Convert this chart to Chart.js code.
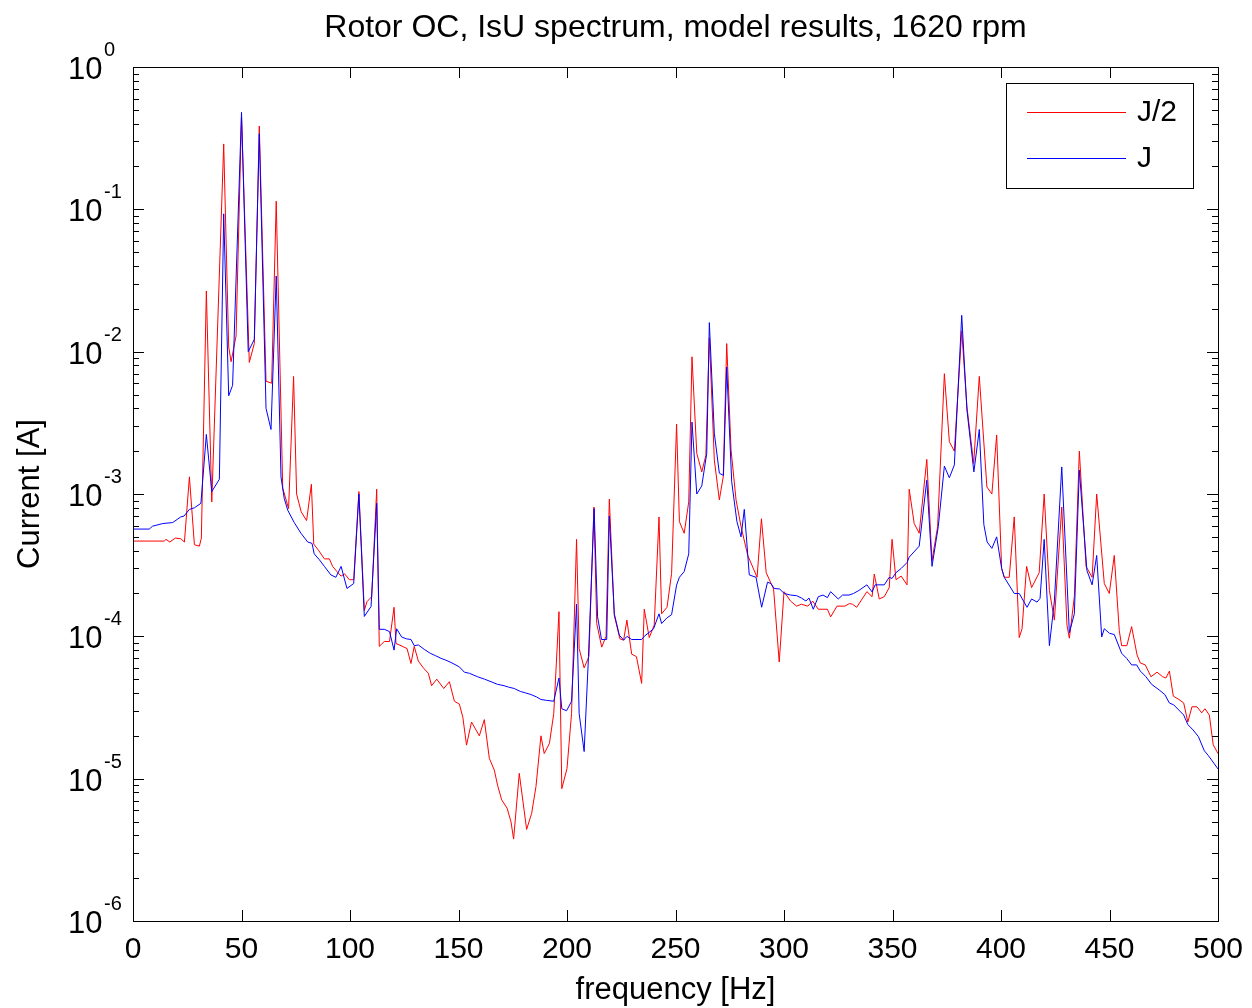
<!DOCTYPE html>
<html>
<head>
<meta charset="utf-8">
<script src="https://cdn.jsdelivr.net/npm/chart.js@4.4.1/dist/chart.umd.min.js"></script>
<style>
  html, body { margin: 0; padding: 0; background: #ffffff; }
  #wrap { width: 1252px; height: 1008px; }
</style>
</head>
<body>
<div id="wrap"><canvas id="myChart" width="1252" height="1008"></canvas></div>
<script>
// J/2 series (red)
const freqHalf = [0, 14.4, 15.2, 17, 19.5, 22, 23.7, 26, 28.3, 30.6, 31.5, 33.8, 36.3, 41.8, 44.1, 45.2, 47.5, 50,
  53.6, 55.9, 58.2, 61.3, 63.9, 66, 69, 71.7, 74, 75.4, 77.5, 80, 82.2, 83.3, 85.6, 88.2, 90.5, 92, 94, 95.9, 97.5,
  99.7, 101.7, 104.1, 106.6, 107.8, 110, 112.3, 113.5, 115.8, 118.2, 120.3, 121.2, 123.5, 126.3, 128.1, 129.6, 131.5,
  133.8, 136.1, 137.6, 140, 143.2, 145.8, 148.1, 150.4, 152, 153.7, 156, 159.6, 161.9, 164.2, 166.5, 168, 169.9,
  172.4, 174.2, 175.4, 178, 181.4, 183.7, 185.7, 188, 189.5, 191.9, 193.9, 196.3, 197.6, 200, 202.1, 204.4, 205.6,
  207.9, 210.1, 212.4, 213.7, 216, 218, 219.5, 221.8, 224.4, 226.1, 227.6, 229.8, 232, 234.4, 235.6, 237.9, 240.2,
  242.4, 243.6, 246.1, 248.2, 250.5, 251.8, 254, 256.1, 257.6, 259.8, 262.1, 264, 265.6, 267.9, 270.2, 272, 273.6,
  275.6, 277.9, 280.2, 283.3, 287.6, 289.6, 291.8, 295.2, 297.8, 300, 303, 305.8, 308, 311, 313.2, 315.8, 320,
  321.5, 324.4, 328, 330.2, 331.6, 333.5, 338.2, 340.6, 341.6, 343.9, 346.2, 348.5, 349.8, 351.6, 354, 356.7, 357.7,
  360, 362.3, 365.8, 368.2, 370.8, 373.9, 376.2, 378.5, 381.9, 384.3, 387.4, 390, 393.5, 395.8, 398, 400.3, 401.5,
  403.8, 406.1, 408.4, 409.7, 411.8, 414.1, 417.6, 419.9, 422.3, 424.6, 428, 430.4, 431.5, 433.8, 436.1, 439.2, 442,
  444.1, 447.6, 449.9, 452.2, 454.5, 455.6, 458, 460.2, 462.7, 464.2, 466.5, 469.1, 471.9, 474.5, 476, 477.6, 479.4,
  482, 484.2, 486.1, 488, 490.3, 492.5, 494, 496, 497.8, 500];
const ampHalf = [4.67e-4, 4.67e-4, 4.8e-4, 4.6e-4, 4.9e-4, 4.85e-4, 4.6e-4, 1.32e-3, 4.4e-4, 4.3e-4, 4.9e-4, 2.67e-2,
  8.8e-4, 0.288, 1.08e-2, 8.5e-3, 1.29e-2, 0.45, 8.4e-3, 1.14e-2, 0.385, 6.2e-3, 6.0e-3, 0.114, 1.1e-3, 7.9e-4,
  6.7e-3, 1.0e-3, 7.5e-4, 6.5e-4, 1.17e-3, 4.45e-4, 4.0e-4, 3.5e-4, 3.5e-4, 3.1e-4, 2.85e-4, 2.65e-4, 2.75e-4,
  2.5e-4, 2.5e-4, 1.04e-3, 1.52e-4, 1.75e-4, 1.9e-4, 1.08e-3, 8.5e-5, 9.2e-5, 9.2e-5, 1.6e-4, 8.9e-5, 8.6e-5,
  8.2e-5, 6.45e-5, 8.5e-5, 6.7e-5, 6.0e-5, 5.5e-5, 4.5e-5, 5.0e-5, 4.3e-5, 4.8e-5, 3.5e-5, 3.34e-5, 2.7e-5,
  1.72e-5, 2.5e-5, 2.0e-5, 2.6e-5, 1.39e-5, 1.15e-5, 9.0e-6, 7.1e-6, 6.2e-6, 4.97e-6, 3.76e-6, 1.09e-5, 4.4e-6,
  5.7e-6, 8.8e-6, 2.0e-5, 1.5e-5, 1.77e-5, 2.87e-5, 1.49e-4, 8.5e-6, 1.18e-5, 2.87e-5, 4.8e-4, 8.2e-5, 6.0e-5,
  7.2e-5, 8.1e-4, 1.23e-4, 8.4e-5, 1.0e-4, 9.2e-4, 1.4e-4, 9.6e-5, 9.4e-5, 1.3e-4, 7.5e-5, 7.2e-5, 4.67e-5,
  1.55e-4, 9.8e-5, 1.2e-4, 6.9e-4, 1.44e-4, 1.6e-4, 2.77e-4, 3.1e-3, 6.4e-4, 5.3e-4, 8.8e-4, 9.2e-3, 1.93e-3,
  1.43e-3, 1.87e-3, 1.25e-2, 1.73e-3, 9.1e-4, 1.32e-3, 1.14e-2, 2.04e-3, 9.1e-4, 5.9e-4, 3.7e-4, 2.6e-4, 6.7e-4,
  2.8e-4, 2.15e-4, 6.6e-5, 2.06e-4, 1.77e-4, 1.63e-4, 1.68e-4, 1.63e-4, 1.77e-4, 1.55e-4, 1.55e-4, 1.37e-4,
  1.63e-4, 1.63e-4, 1.7e-4, 1.68e-4, 1.6e-4, 2.06e-4, 1.9e-4, 2.74e-4, 1.83e-4, 1.9e-4, 2.2e-4, 4.8e-4, 2.5e-4,
  2.65e-4, 2.3e-4, 1.08e-3, 6.2e-4, 5.3e-4, 1.75e-3, 3.4e-4, 5.9e-4, 7.0e-3, 2.33e-3, 2.0e-3, 1.4e-2, 4.1e-3,
  1.64e-3, 6.7e-3, 1.12e-3, 1.0e-3, 2.6e-3, 3.0e-4, 2.6e-4, 2.6e-4, 6.9e-4, 9.8e-5, 1.13e-4, 3.1e-4, 2.2e-4,
  2.8e-4, 1.0e-3, 2.1e-4, 1.3e-4, 8.1e-4, 1.2e-4, 9.7e-5, 1.9e-4, 2.0e-3, 3.1e-4, 2.6e-4, 1.0e-3, 2.35e-4, 2.0e-4,
  3.7e-4, 1.1e-4, 8.6e-5, 8.6e-5, 1.17e-4, 7.4e-5, 6.5e-5, 6.3e-5, 5.2e-5, 5.6e-5, 5.2e-5, 5.1e-5, 5.7e-5, 3.8e-5,
  3.6e-5, 3.4e-5, 2.5e-5, 3.2e-5, 3.2e-5, 2.9e-5, 3.1e-5, 2.8e-5, 1.73e-5, 1.5e-5];

// J series (blue)
const freqFull = [0, 7.5, 9, 13.7, 18.3, 22, 23.5, 26, 28.3, 31.3, 33.8, 36.3, 39.8, 41.8, 44.1, 45.9, 50, 53.1, 55.9,
  58.2, 61.3, 63.6, 66, 68.2, 69.7, 71.3, 74.3, 77.4, 80.5, 82.5, 83.5, 85.9, 88.2, 91.2, 93.5, 95.9, 98.6, 101.7,
  104.1, 106.6, 109.7, 112.3, 113.5, 115.8, 118.2, 120.3, 121.5, 123.8, 126, 128.1, 129.6, 131.5, 134.2, 137, 139.5,
  142, 144.2, 147, 150.4, 152.7, 155, 158.8, 162, 165, 168, 171, 173, 175.7, 178.5, 181, 183.4, 186, 188, 190.5,
  193.9, 196.3, 197.6, 199.8, 202.1, 204.4, 205.6, 207.9, 209.9, 212.5, 214.1, 215.9, 218.3, 219.5, 221.8, 224.1,
  226.1, 227.6, 229.8, 234.4, 235.6, 239.9, 242.4, 243.6, 246.1, 248.2, 250.5, 251.8, 254, 256.1, 257.6, 259.8,
  262.1, 264.4, 265.6, 267.9, 270.2, 272.1, 273.6, 275.9, 278.3, 280.2, 281.7, 284, 287.1, 289.7, 292.4, 294, 295.5,
  298, 300.1, 303, 305.8, 308, 310.1, 311.5, 313.5, 315.8, 318, 320, 321.5, 325, 327, 330, 332, 334.5, 338.2, 340.6,
  342, 346.2, 348.5, 349.8, 351.6, 354, 356.7, 357.7, 362.3, 365.8, 368.2, 371.1, 373.9, 376.2, 378.5, 381.9, 384.3,
  387.5, 390, 392.1, 393.6, 395.8, 398, 400.3, 401.5, 406.1, 408.4, 412, 414.1, 416.6, 418, 419.9, 422.3, 424.6,
  428, 431.5, 433.8, 436.1, 439.6, 442, 444.1, 446.4, 447.6, 450, 452.2, 455.6, 457.9, 460.2, 462.5, 464.2, 466.8,
  469.4, 472.9, 475.5, 477.6, 479.6, 484.2, 486.1, 488.5, 491, 493.7, 495.6, 500];
const ampFull = [5.67e-4, 5.67e-4, 5.94e-4, 6.2e-4, 6.3e-4, 6.9e-4, 7.0e-4, 7.8e-4, 8.0e-4, 8.6e-4, 2.62e-3, 1.04e-3,
  1.27e-3, 0.093, 4.9e-3, 5.8e-3, 0.48, 1.0e-2, 1.22e-2, 0.34, 4.0e-3, 2.84e-3, 0.034, 1.32e-3, 9.3e-4, 7.7e-4,
  6.3e-4, 5.3e-4, 4.6e-4, 4.5e-4, 3.8e-4, 3.45e-4, 3.1e-4, 2.7e-4, 2.6e-4, 3.1e-4, 2.17e-4, 2.35e-4, 1.0e-3,
  1.38e-4, 1.62e-4, 8.6e-4, 1.12e-4, 1.12e-4, 1.08e-4, 8.0e-5, 1.13e-4, 9.9e-5, 9.6e-5, 9.5e-5, 8.6e-5, 8.7e-5,
  8.1e-5, 7.6e-5, 7.3e-5, 7.0e-5, 6.8e-5, 6.5e-5, 6.1e-5, 5.6e-5, 5.5e-5, 5.2e-5, 5.0e-5, 4.8e-5, 4.6e-5, 4.5e-5,
  4.4e-5, 4.3e-5, 4.1e-5, 4.0e-5, 3.9e-5, 3.75e-5, 3.6e-5, 3.55e-5, 3.5e-5, 5.1e-5, 3.1e-5, 3.0e-5, 3.5e-5,
  1.68e-4, 2.87e-5, 1.55e-5, 7.2e-5, 7.9e-4, 1.37e-4, 9.5e-5, 9.5e-5, 7.0e-4, 1.44e-4, 1.02e-4, 9.4e-5, 1.0e-4,
  9.5e-5, 9.5e-5, 1.0e-4, 1.13e-4, 1.44e-4, 1.23e-4, 1.35e-4, 1.42e-4, 2.29e-4, 2.6e-4, 2.85e-4, 3.8e-4, 3.2e-3,
  1.0e-3, 1.14e-3, 1.93e-3, 1.6e-2, 2.67e-3, 1.4e-3, 1.35e-3, 7.8e-3, 1.22e-3, 6.4e-4, 5.0e-4, 7.8e-4, 2.7e-4,
  2.6e-4, 1.6e-4, 2.4e-4, 2.35e-4, 2.17e-4, 2.15e-4, 2.0e-4, 1.95e-4, 1.93e-4, 1.86e-4, 1.77e-4, 1.86e-4, 1.55e-4,
  1.9e-4, 1.95e-4, 1.87e-4, 2.06e-4, 1.83e-4, 1.95e-4, 1.95e-4, 2.0e-4, 2.1e-4, 2.3e-4, 2.05e-4, 2.3e-4, 2.3e-4,
  2.6e-4, 2.55e-4, 2.8e-4, 3.0e-4, 3.3e-4, 3.6e-4, 4.3e-4, 1.25e-3, 3.1e-4, 5.9e-4, 1.57e-3, 1.3e-3, 1.6e-3, 1.8e-2,
  3.9e-3, 1.43e-3, 2.84e-3, 6.1e-4, 4.6e-4, 4.15e-4, 5.0e-4, 3.0e-4, 2.6e-4, 2.0e-4, 2.0e-4, 1.6e-4, 1.83e-4,
  1.74e-4, 1.85e-4, 4.8e-4, 8.6e-5, 1.77e-4, 1.55e-3, 1.06e-4, 1.44e-4, 1.47e-3, 2.9e-4, 2.3e-4, 3.7e-4, 9.9e-5,
  1.13e-4, 1.05e-4, 1.03e-4, 7.6e-5, 7.0e-5, 6.3e-5, 6.3e-5, 5.7e-5, 5.2e-5, 4.6e-5, 4.2e-5, 3.9e-5, 3.4e-5, 3.3e-5,
  2.8e-5, 2.4e-5, 2.2e-5, 1.97e-5, 1.57e-5, 1.45e-5, 1.17e-5];

const xTicks = [0, 50, 100, 150, 200, 250, 300, 350, 400, 450, 500];
const yDecades = [0, -1, -2, -3, -4, -5, -6];
const legendLabels = ["J/2", "J"];
const seriesColors = ["#ff0000", "#0000ff"];
const titleText = "Rotor OC, IsU spectrum, model results, 1620 rpm";

const FONT = 'Arial, "Liberation Sans", sans-serif';

const toPoints = (xs, ys) => xs.map((x, i) => ({ x, y: ys[i] }));

// MATLAB-style title, box, inward ticks, superscript y labels and legend
const matlabAxes = {
  id: "matlabAxes",
  afterDatasetsDraw(chart) {
    const { ctx, chartArea: a, scales } = chart;
    const xs = scales.x, ys = scales.y;
    ctx.save();

    // title centred over the plot box
    ctx.fillStyle = "#000000";
    ctx.font = "32px " + FONT;
    ctx.textAlign = "center";
    ctx.textBaseline = "middle";
    ctx.fillText(titleText, (a.left + a.right) / 2, 28);

    ctx.strokeStyle = "#000000";
    ctx.lineWidth = 1;
    ctx.beginPath();
    xTicks.forEach(t => {
      const px = Math.round(xs.getPixelForValue(t)) + 0.5;
      ctx.moveTo(px, a.bottom); ctx.lineTo(px, a.bottom - 11);
      ctx.moveTo(px, a.top); ctx.lineTo(px, a.top + 11);
    });
    yDecades.forEach(d => {
      for (let m = 1; m <= 9; m++) {
        const v = m * Math.pow(10, d);
        if (v > 1.0001) continue;
        const py = Math.round(ys.getPixelForValue(v)) + 0.5;
        const len = m === 1 ? 11 : 6;
        ctx.moveTo(a.left, py); ctx.lineTo(a.left + len, py);
        ctx.moveTo(a.right, py); ctx.lineTo(a.right - len, py);
      }
    });
    ctx.stroke();
    ctx.strokeRect(Math.round(a.left) + 0.5, Math.round(a.top) + 0.5,
      Math.round(a.right - a.left), Math.round(a.bottom - a.top));

    // y tick labels 10^n
    ctx.textAlign = "left";
    ctx.textBaseline = "alphabetic";
    yDecades.forEach(d => {
      const py = ys.getPixelForValue(Math.pow(10, d));
      ctx.font = "31px " + FONT;
      ctx.fillText("10", 68, py + 12);
      ctx.font = "20px " + FONT;
      ctx.fillText(d === 0 ? "0" : String(d), 104, py - 11);
    });

    // legend
    const lx = 1006, ly = 83, lw = 187, lh = 105;
    ctx.fillStyle = "#ffffff";
    ctx.fillRect(lx, ly, lw, lh);
    ctx.strokeRect(lx + 0.5, ly + 0.5, lw, lh);
    ctx.font = "30px " + FONT;
    ctx.textBaseline = "middle";
    legendLabels.forEach((lab, i) => {
      const yy = ly + 29 + i * 46;
      ctx.strokeStyle = seriesColors[i];
      ctx.beginPath();
      ctx.moveTo(1027, yy + 0.5); ctx.lineTo(1126, yy + 0.5);
      ctx.stroke();
      ctx.fillStyle = "#000000";
      ctx.fillText(lab, 1137, yy + 1);
    });
    ctx.restore();
  }
};

new Chart(document.getElementById("myChart"), {
  type: "line",
  data: {
    datasets: [
      {
        label: "J",
        data: toPoints(freqFull, ampFull),
        borderColor: seriesColors[1],
        borderWidth: 1,
        pointRadius: 0,
        tension: 0,
        fill: false,
        order: 1
      },
      {
        label: "J/2",
        data: toPoints(freqHalf, ampHalf),
        borderColor: seriesColors[0],
        borderWidth: 1,
        pointRadius: 0,
        tension: 0,
        fill: false,
        order: 2
      }
    ]
  },
  options: {
    responsive: false,
    animation: false,
    layout: { padding: { left: 0, right: 34, top: 67, bottom: 0 } },
    plugins: {
      legend: { display: false },
      tooltip: { enabled: false },
      title: { display: false }
    },
    scales: {
      x: {
        type: "linear",
        min: 0,
        max: 500,
        grid: { display: false },
        border: { display: false },
        afterBuildTicks: (scale) => { scale.ticks = xTicks.map(v => ({ value: v })); },
        afterFit: (scale) => { scale.height = 87; },
        ticks: { color: "#000000", font: { family: FONT, size: 30 }, padding: 3, maxRotation: 0, autoSkip: false },
        title: {
          display: true,
          text: "frequency [Hz]",
          color: "#000000",
          font: { family: FONT, size: 31 },
          padding: { top: 0, bottom: -1 }
        }
      },
      y: {
        type: "logarithmic",
        min: 1e-6,
        max: 1,
        grid: { display: false },
        border: { display: false },
        ticks: { display: false },
        afterFit: (scale) => { scale.width = 133; },
        title: {
          display: true,
          text: "Current [A]",
          color: "#000000",
          font: { family: FONT, size: 31 },
          padding: { top: 12, bottom: 0 }
        }
      }
    }
  },
  plugins: [matlabAxes]
});
</script>
</body>
</html>
